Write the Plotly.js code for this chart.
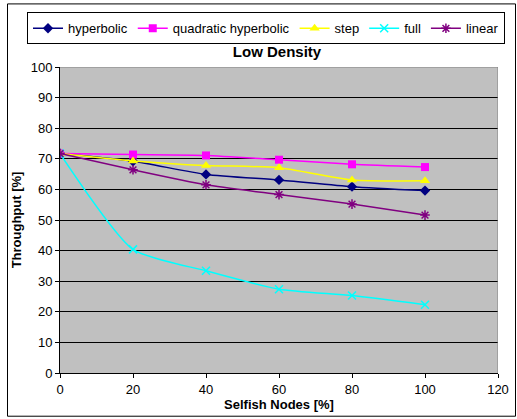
<!DOCTYPE html>
<html>
<head>
<meta charset="utf-8">
<script src="https://cdn.plot.ly/plotly-3.0.1.min.js"></script>
<style>
html,body{margin:0;padding:0;background:#fff;}
#chart{width:517px;height:419px;}
</style>
</head>
<body>
<div id="chart"></div>
<script>
const selfishNodes = [0, 20, 40, 60, 80, 100];
const hyperbolic = [71.7, 69.2, 64.9, 63.1, 60.9, 59.6];
const quadraticHyperbolic = [71.7, 71.4, 71.1, 69.7, 68.2, 67.3];
const step = [71.7, 69.3, 67.8, 67.1, 63.1, 62.8];
const full = [71.7, 40.4, 33.4, 27.4, 25.3, 22.3];
const linear = [71.7, 66.4, 61.5, 58.3, 55.2, 51.6];

const seriesNames = ['hyperbolic', 'quadratic hyperbolic', 'step', 'full', 'linear'];
const seriesValues = [hyperbolic, quadraticHyperbolic, step, full, linear];
const seriesColors = ['#000080', '#FF00FF', '#FFFF00', '#00FFFF', '#800080'];
const seriesSymbols = ['diamond', 'square', 'triangle-up', 'x-thin-open', 'asterisk-open'];
const seriesSizes = [8, 8, 9, 8, 8];

const traces = seriesNames.map((name, i) => ({
  x: selfishNodes,
  y: seriesValues[i],
  name: name,
  type: 'scatter',
  mode: 'lines+markers',
  line: {color: seriesColors[i], width: 1.5, shape: 'spline', smoothing: 0.6},
  marker: {
    symbol: seriesSymbols[i],
    size: seriesSizes[i],
    color: seriesColors[i],
    line: {color: seriesColors[i], width: (i >= 3 ? 1.5 : 0)}
  }
}));

const L = 60, R = 498, T = 65, B = 373, W = 517, H = 419;
const pw = R - L, ph = B - T;
const px = v => (v - L) / pw;
const py = v => (B - v) / ph;

const layout = {
  width: W, height: H,
  margin: {l: L, r: W - R, t: T, b: H - B, pad: 0},
  paper_bgcolor: '#ffffff',
  plot_bgcolor: '#C0C0C0',
  font: {family: 'Liberation Sans, Arial, sans-serif', size: 13, color: '#000'},
  title: {
    text: '<b>Low Density</b>',
    font: {size: 15, color: '#000'},
    x: px(277), xref: 'paper', xanchor: 'center',
    y: 1 - 52 / H, yref: 'container', yanchor: 'middle'
  },
  showlegend: true,
  legend: {
    orientation: 'h',
    x: px(27), xanchor: 'left',
    y: py(10), yanchor: 'top',
    bordercolor: '#000', borderwidth: 1,
    bgcolor: '#fff',
    font: {size: 13},
    itemwidth: 30,
    tracegroupgap: 0
  },
  xaxis: {
    range: [0, 120], dtick: 20, tick0: 0,
    showgrid: false, zeroline: false,
    showline: true, linecolor: '#000', linewidth: 1,
    ticks: 'outside', ticklen: 4, tickcolor: '#000',
    tickfont: {size: 13},
    title: {text: '<b>Selfish Nodes [%]</b>', font: {size: 13}, standoff: 0}
  },
  yaxis: {
    range: [0, 100], dtick: 10, tick0: 0,
    showgrid: true, gridcolor: '#000', gridwidth: 1,
    zeroline: false,
    showline: true, linecolor: '#000', linewidth: 1,
    ticks: 'outside', ticklen: 4, tickcolor: '#000',
    tickfont: {size: 13},
    title: {text: '<b>Throughput [%]</b>', font: {size: 13}, standoff: 6}
  },
  shapes: [
    {type: 'line', xref: 'x', yref: 'y', x0: 0, x1: 120, y0: 100, y1: 100,
     line: {color: '#808080', width: 1}, layer: 'above'},
    {type: 'line', xref: 'x', yref: 'y', x0: 120, x1: 120, y0: 0, y1: 100,
     line: {color: '#808080', width: 1}, layer: 'above'},
    {type: 'rect', xref: 'paper', yref: 'paper',
     x0: px(7.5), x1: px(515.5), y0: py(416.5), y1: py(1.5),
     line: {color: '#000', width: 1}, fillcolor: 'rgba(0,0,0,0)', layer: 'above'}
  ]
};

Plotly.newPlot('chart', traces, layout, {displayModeBar: false, staticPlot: true});
</script>
</body>
</html>
